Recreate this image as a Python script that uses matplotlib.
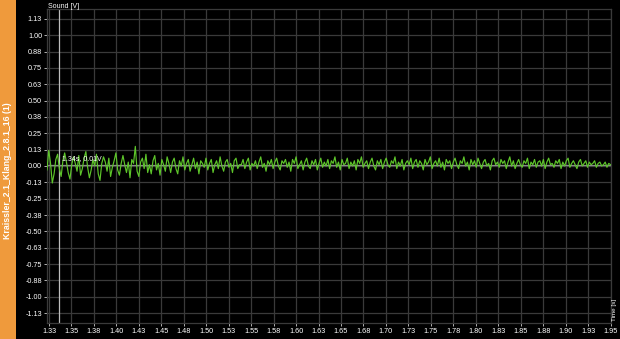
import numpy as np
import matplotlib
matplotlib.use("Agg")
import matplotlib.pyplot as plt
from matplotlib.patches import Rectangle

plt.rcParams['font.family'] = ['Liberation Sans', 'DejaVu Sans']

# ---- data ----
title = "Kraissler_2.1_Klang_2.8.1_16 (1)"
x_label = "Time [s]"
y_label = "Sound [V]"
t_start = 1.3228
t_end = 1.95
cursor_t = 1.3361
cursor_v = 0.01
cursor_text = "1.34s, 0.01V"

sound = [
    -0.03, 0.12, 0.02, -0.13, -0.06, 0.05, 0.09, -0.02, -0.08, 0.04,
    0.10, 0.03, -0.05, -0.10, 0.01, 0.07, 0.02, -0.04, 0.08, -0.07,
    -0.02, 0.06, 0.11, -0.01, -0.09, -0.03, 0.05, 0.00, 0.09, -0.06,
    -0.11, 0.02, 0.07, 0.03, -0.04, 0.06, -0.08, -0.01, 0.04, 0.10,
    -0.03, -0.07, 0.02, 0.08, 0.01, -0.05, 0.03, -0.09, 0.05, 0.02,
    0.15, -0.04, -0.08, 0.03, 0.06, -0.02, 0.09, -0.05, 0.01, -0.06,
    0.04, 0.08, -0.03, 0.02, -0.07, 0.05, 0.01, -0.04, 0.07, 0.02,
    -0.05, 0.03, 0.06, -0.02, -0.06, 0.04, 0.00, 0.07, -0.03, 0.02,
    0.05, -0.04, 0.01, 0.06, -0.02, 0.03, -0.06, 0.04, 0.02, -0.01,
    0.06, -0.03, 0.02, 0.05, -0.05, 0.01, 0.04, -0.02, 0.07, 0.00,
    -0.04, 0.03, 0.05, -0.01, 0.02, -0.05, 0.04, 0.06, -0.02, 0.01,
    0.01, 0.05, -0.02, 0.03, 0.06, -0.03, 0.02, 0.00, 0.04, -0.02,
    0.03, 0.07, -0.01, 0.02, -0.04, 0.04, 0.01, 0.05, -0.02, 0.03,
    0.06, 0.00, -0.03, 0.04, 0.02, 0.05, -0.01, 0.03, -0.04, 0.05,
    0.02, 0.07, -0.02, 0.01, 0.04, -0.03, 0.03, 0.06, 0.00, -0.02,
    0.04, 0.01, 0.05, -0.03, 0.02, 0.06, -0.01, 0.03, 0.00, 0.05,
    -0.02, 0.04, 0.02, 0.07, -0.01, 0.03, -0.03, 0.05, 0.01, 0.02,
    0.06, -0.02, 0.03, 0.00, 0.04, -0.03, 0.05, 0.02, 0.07, -0.01,
    0.02, 0.04, -0.02, 0.03, 0.06, 0.00, -0.03, 0.04, 0.01, 0.05,
    -0.02, 0.03, 0.06, 0.01, -0.01, 0.04, 0.02, 0.07, -0.02, 0.03,
    0.00, 0.05, -0.03, 0.02, 0.04, 0.01, 0.06, -0.02, 0.03, 0.05,
    -0.01, 0.04, 0.02, -0.03, 0.05, 0.01, 0.03, 0.07, -0.02, 0.02,
    0.04, 0.00, 0.06, -0.01, 0.03, -0.03, 0.05, 0.02, 0.04, -0.02,
    0.03, 0.06, 0.01, -0.02, 0.04, 0.02, 0.07, 0.00, 0.03, -0.03,
    0.05, 0.01, 0.04, -0.01, 0.06, 0.02, -0.02, 0.03, 0.05, 0.00,
    0.02, -0.03, 0.04, 0.06, 0.01, 0.03, -0.01, 0.05, 0.02, 0.04,
    -0.02, 0.03, 0.07, 0.00, 0.04, -0.02, 0.02, 0.05, 0.01, -0.01,
    0.04, 0.02, 0.06, -0.02, 0.03, 0.01, 0.05, -0.01, 0.03, 0.04,
    0.00, 0.05, -0.02, 0.03, 0.06, 0.01, 0.02, -0.01, 0.04, 0.02,
    0.05, -0.02, 0.03, 0.00, 0.04, 0.06, -0.01, 0.02, 0.04, 0.01,
    -0.02, 0.03, 0.05, 0.00, 0.02, 0.04, -0.01, 0.03, 0.01, 0.02,
    0.04, -0.01, 0.02, 0.03, 0.00, 0.01, 0.03, -0.01, 0.02, 0.01,
]

x_ticks = [1.325, 1.35, 1.375, 1.40, 1.425, 1.45, 1.475, 1.50, 1.525, 1.55,
           1.575, 1.60, 1.625, 1.65, 1.675, 1.70, 1.725, 1.75, 1.775, 1.80,
           1.825, 1.85, 1.875, 1.90, 1.925, 1.95]
x_tick_labels = ["1.33", "1.35", "1.38", "1.40", "1.43", "1.45", "1.48", "1.50",
                 "1.53", "1.55", "1.58", "1.60", "1.63", "1.65", "1.68", "1.70",
                 "1.73", "1.75", "1.78", "1.80", "1.83", "1.85", "1.88", "1.90",
                 "1.93", "1.95"]
y_ticks = [1.125, 1.0, 0.875, 0.75, 0.625, 0.5, 0.375, 0.25, 0.125, 0.0,
           -0.125, -0.25, -0.375, -0.5, -0.625, -0.75, -0.875, -1.0, -1.125]
y_tick_labels = ["1.13", "1.00", "0.88", "0.75", "0.63", "0.50", "0.38", "0.25",
                 "0.13", "0.00", "-0.13", "-0.25", "-0.38", "-0.50", "-0.63",
                 "-0.75", "-0.88", "-1.00", "-1.13"]

# ---- figure ----
W, H = 620, 339
fig = plt.figure(figsize=(W / 100, H / 100), dpi=100, facecolor="black")

# orange side bar
fig.patches.append(Rectangle((0, 0), 15.5 / W, 1, transform=fig.transFigure,
                             facecolor="#EF9A3C", edgecolor="none", zorder=0))
fig.text(8 / W, (H - 171) / H, title, rotation=90, color="white", fontsize=6.3,
         fontweight="bold", ha="center", va="center")

left, right, top, bottom = 47, 610.5, 9, 323
ax = fig.add_axes([left / W, (H - bottom) / H, (right - left) / W, (bottom - top) / H])
ax.set_facecolor("black")

t = np.linspace(t_start, t_end, len(sound))
ax.plot(t, sound, color="#5DC52A", lw=0.85, zorder=3)

ax.set_xlim(t_start, t_end)
ax.set_ylim(-1.2, 1.2)
ax.set_xticks(x_ticks)
ax.set_xticklabels(x_tick_labels)
ax.set_yticks(y_ticks)
ax.set_yticklabels(y_tick_labels)
ax.tick_params(colors="#cfcfcf", labelsize=5.2, length=2, width=0.6, pad=1.5,
               labelcolor="white")
ax.grid(True, color="#3a3a3a", lw=0.9, zorder=0)
ax.set_axisbelow(True)
for s in ax.spines.values():
    s.set_color("#3a3a3a")
    s.set_linewidth(0.9)

# cursor
ax.axvline(cursor_t, color="#bdbdbd", lw=0.9, zorder=2)
ax.axhline(cursor_v, color="#8a8a8a", lw=0.9, zorder=2)
ax.annotate(cursor_text, xy=(cursor_t, cursor_v), xytext=(2.5, 2),
            textcoords="offset points", color="white", fontsize=5,
            ha="left", va="bottom", zorder=4)

# axis labels
fig.text(48 / W, (H - 6) / H, y_label, color="white", fontsize=5,
         ha="left", va="center")
fig.text(614.5 / W, (H - 321) / H, x_label, color="white", fontsize=4.5,
         rotation=90, ha="center", va="bottom")

fig.savefig("out.png", dpi=100, facecolor="black")
